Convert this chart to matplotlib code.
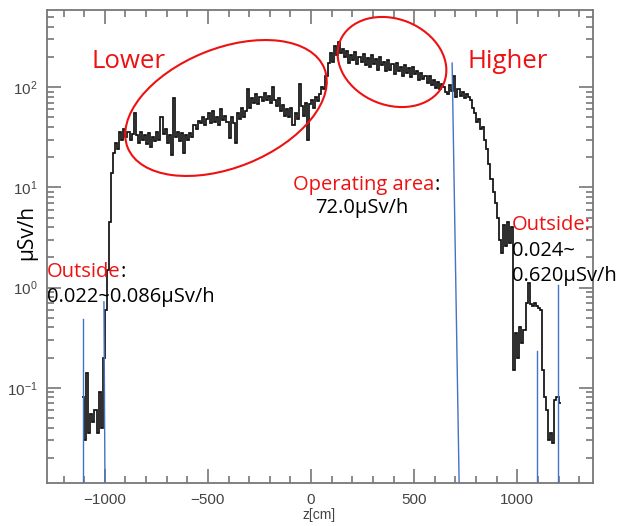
import numpy as np
import matplotlib
matplotlib.use("Agg")
import matplotlib.pyplot as plt
from matplotlib.patches import Ellipse
from matplotlib.transforms import Affine2D
from matplotlib.ticker import LogLocator, NullFormatter, MultipleLocator

plt.rcParams['font.family'] = ['Liberation Sans', 'DejaVu Sans']

# dose rate along z, 10 cm bins, first bin starts at -1110 cm
bin_start = -1110
bin_width = 10
dose = [
    0.08, 0.03, 0.14, 0.035, 0.055, 0.045, 0.06, 0.035, 0.09, 0.04,   # -1110
    0.2, 0.6, 1.5, 4.5, 14, 22, 28, 24, 36, 30,                      # -1010
    38, 32, 36, 30, 34, 55, 33, 28, 36, 30,                          # -910
    33, 27, 35, 25, 32, 29, 36, 30, 50, 34,                          # -810
    38, 28, 33, 21, 78, 32, 36, 29, 35, 22,                          # -710
    33, 30, 35, 32, 42, 38, 46, 44, 50, 42,                          # -610
    48, 55, 44, 58, 45, 50, 42, 60, 47, 52,                          # -510
    45, 31, 50, 44, 28, 55, 48, 62, 50, 58,                          # -410
    95, 62, 78, 70, 85, 68, 80, 72, 88, 75,                          # -310
    82, 70, 100, 75, 65, 78, 58, 66, 52, 60,                         # -210
    50, 62, 42, 55, 48, 108, 65, 52, 70, 30,                         # -110
    68, 75, 62, 80, 72, 85, 100, 95, 130, 175,                       # -10
    220, 180, 260, 210, 280, 220, 240, 200, 230, 175,                # 90
    210, 185, 225, 170, 200, 180, 215, 165, 195, 160,                # 190
    210, 170, 190, 150, 200, 165, 180, 145, 185, 150,                # 290
    170, 135, 175, 145, 160, 130, 165, 140, 155, 125,                # 390
    160, 135, 145, 118, 140, 120, 130, 110, 128, 105,                # 490
    118, 98, 112, 95, 108, 100, 90, 85, 105, 92,                     # 590
    130, 80, 95, 82, 90, 78, 85, 80, 75, 62,                         # 690
    55, 45, 48, 38, 40, 30, 24, 17, 12, 9,                           # 790
    7, 5, 3, 2.2, 4.2, 2.6, 4.5, 2.8, 4.0, 0.15,                     # 890
    0.35, 0.2, 0.4, 0.28, 0.38, 0.7, 1.1, 0.68, 0.65, 0.7,           # 990
    0.66, 0.62, 0.6, 0.15, 0.08, 0.06, 0.03, 0.035, 0.028, 0.075,    # 1090
    0.08, 0.07,                                                      # 1190
]

# blue marker lines: z at top, z at bottom, dose at top
marker_z_top = [-1105, -1004, 684, 1096, 1198]
marker_z_bottom = [-1105, -999, 718, 1096, 1198]
marker_top = [0.48, 0.72, 174, 0.23, 1.05]

W, H = 625, 526
fig = plt.figure(figsize=(W / 100, H / 100), dpi=100)
ax = fig.add_axes([47 / W, (H - 483) / H, 546 / W, 473 / H])

YMIN, YMAX = 0.0112, 589
edges = bin_start + bin_width * np.arange(len(dose) + 1)
ax.stairs(dose, edges, baseline=None, color='#111111', lw=1.25)

for zt, zb, yt in zip(marker_z_top, marker_z_bottom, marker_top):
    ax.plot([zt, zb], [yt, YMIN], color='#4472C4', lw=1.0)

ax.set_yscale('log')
ax.set_xlim(-1280, 1367)
ax.set_ylim(YMIN, YMAX)

ax.xaxis.set_major_locator(MultipleLocator(500))
ax.xaxis.set_minor_locator(MultipleLocator(100))
ax.yaxis.set_major_locator(LogLocator(base=10, numticks=10))
ax.yaxis.set_minor_locator(LogLocator(base=10, subs=np.arange(2, 10), numticks=20))
ax.yaxis.set_minor_formatter(NullFormatter())

for s in ax.spines.values():
    s.set_color('#777777')
    s.set_linewidth(1.3)
ax.tick_params(which='both', direction='in', top=True, right=True, color='#777777', width=1.2)
ax.tick_params(which='major', length=10)
ax.tick_params(which='minor', length=5)
ax.tick_params(axis='x', labelsize=11, labelcolor='#444444', pad=7)
ax.tick_params(axis='y', labelsize=11, labelcolor='#444444', pad=7)

ax.set_xlabel('z[cm]', fontsize=10, color='#444444')
ax.xaxis.set_label_coords(0.498, -0.052)
ax.set_ylabel('µSv/h', fontsize=15, color='black', family=['Open Sans', 'DejaVu Sans'])
ax.yaxis.set_label_coords(-0.018, 0.53)

# red ellipses, drawn in image pixels (y up)
pix = Affine2D().scale(1 / 100) + fig.dpi_scale_trans
for cx, cy, w, h, ang in [(226, H - 108, 212, 119, 22), (392, H - 62, 112, 86, -22)]:
    fig.patches.append(Ellipse((cx, cy), w, h, angle=ang, fill=False,
                               edgecolor='#EE1111', lw=1.5, transform=pix))

red = '#EE1111'
fam = ['Open Sans', 'DejaVu Sans']


def put(x, y, s, color='black', size=14.5):
    return fig.text(x / W, 1 - y / H, s, color=color, fontsize=size,
                    family=fam, ha='left', va='baseline')


def colon_after(t, color='black', size=14.5):
    return ax.annotate(':', xy=(1, 0), xycoords=t, color=color, fontsize=size,
                       family=fam, ha='left', va='bottom', annotation_clip=False)


put(91, 68, 'Lower', red, 18.5)
put(467, 68, 'Higher', red, 18.5)
t = put(293, 190, 'Operating area', red)
colon_after(t)
put(315, 213, '72.0µSv/h')
t = put(47, 277, 'Outside', red)
colon_after(t)
put(47, 302, '0.022~0.086µSv/h')
put(512, 230, 'Outside:', red)
put(512, 256, '0.024~')
put(512, 281, '0.620µSv/h')

fig.savefig('out.png', dpi=100)
